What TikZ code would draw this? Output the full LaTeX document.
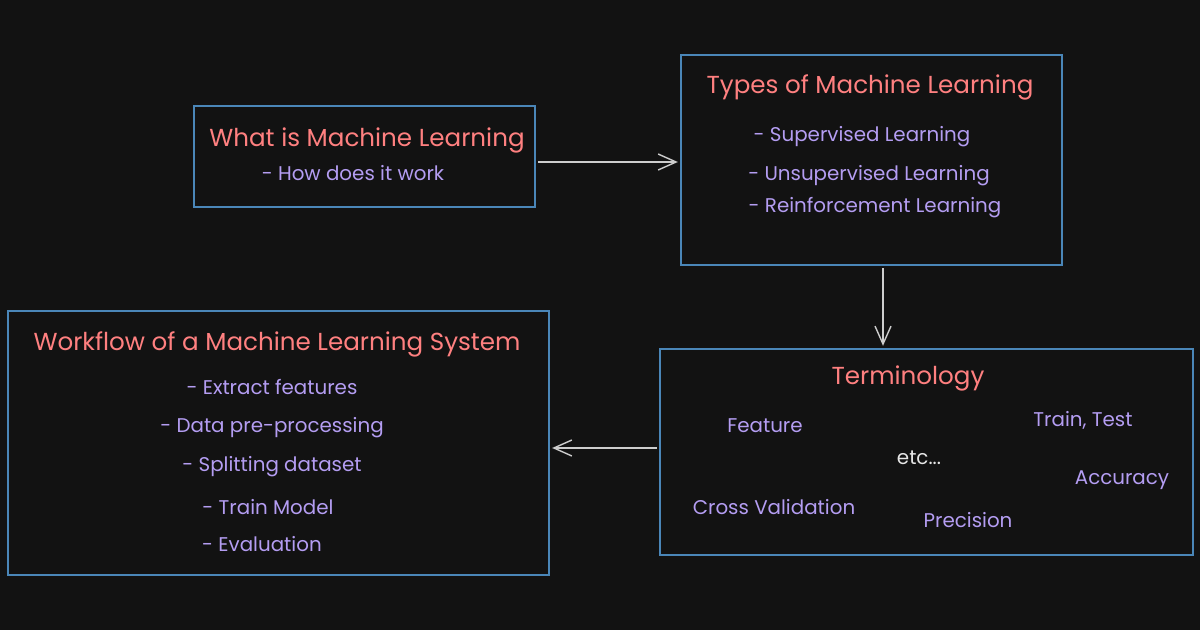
\documentclass[tikz,border=0pt]{standalone}
\usepackage{fontspec}
\setmainfont{Poppins}
\usetikzlibrary{arrows.meta}

\definecolor{bgdark}{HTML}{121212}
\definecolor{boxline}{HTML}{4A86B8}
\definecolor{headred}{HTML}{FF8080}
\definecolor{itemviolet}{HTML}{B49DF2}
\definecolor{linkgrey}{HTML}{CDCDCD}
\definecolor{plainwhite}{HTML}{E6E6E6}

\tikzset{
  topic/.style={draw=boxline, line width=0.8pt, fill=bgdark, inner sep=0pt},
  head/.style={text=headred, font=\fontsize{14}{16}\selectfont, inner sep=0pt},
  item/.style={text=itemviolet, font=\fontsize{11.3}{13}\selectfont, inner sep=0pt},
  link/.style={draw=linkgrey, line width=0.8pt, -{Straight Barb[length=3.6mm,width=3.2mm]}, shorten >=0.05cm, shorten <=0.05cm}
}

\begin{document}
\begin{tikzpicture}[x=0.02cm, y=-0.02cm]
   \fill[bgdark] (0,0) rectangle (1200,630);
   \useasboundingbox (0,0) rectangle (1200,630);

   \node[topic, minimum width=6.82cm, minimum height=2.02cm] (intro) at (364.5,156.5) {};
   \node[topic, minimum width=7.62cm, minimum height=4.2cm] (types) at (871.5,160) {};
   \node[topic, minimum width=10.66cm, minimum height=4.12cm] (terms) at (926.5,452) {};
   \node[topic, minimum width=10.82cm, minimum height=5.28cm] (flow) at (278.5,443) {};

   \node[head] (introhead) at (367,140) {What is Machine Learning};
   \node[item] (howworks) at (353,173) {- How does it work};

   \node[head] (typeshead) at (870,87) {Types of Machine Learning};
   \node[item] (supervised) at (862,137) {- Supervised Learning};
   \node[item] (unsupervised) at (869,176) {- Unsupervised Learning};
   \node[item] (reinforce) at (875,208) {- Reinforcement Learning};

   \node[head] (termshead) at (908,378) {Terminology};
   \node[item] (feature) at (765,426) {Feature};
   \node[item] (traintest) at (1083,420) {Train, Test};
   \node[item, text=plainwhite] (etc) at (919,458) {etc...};
   \node[item] (accuracy) at (1122,480) {Accuracy};
   \node[item] (crossval) at (774,507) {Cross Validation};
   \node[item] (precision) at (968,520) {Precision};

   \node[head] (flowhead) at (277,344) {Workflow of a Machine Learning System};
   \node[item] (extract) at (272,387) {- Extract features};
   \node[item] (preproc) at (272,428) {- Data pre-processing};
   \node[item] (splitting) at (272,467) {- Splitting dataset};
   \node[item] (trainmodel) at (268,507) {- Train Model};
   \node[item] (evaluate) at (262,544) {- Evaluation};

   \draw[link] ([yshift=-0.11cm]intro.east) -- ([yshift=-0.11cm]intro.east -| types.west);
   \draw[link] ([xshift=0.23cm]types.south) -- ([xshift=0.23cm]types.south |- terms.north);
   \draw[link] ([yshift=0.08cm]terms.west) -- ([yshift=0.08cm]terms.west -| flow.east);
\end{tikzpicture}
\end{document}
